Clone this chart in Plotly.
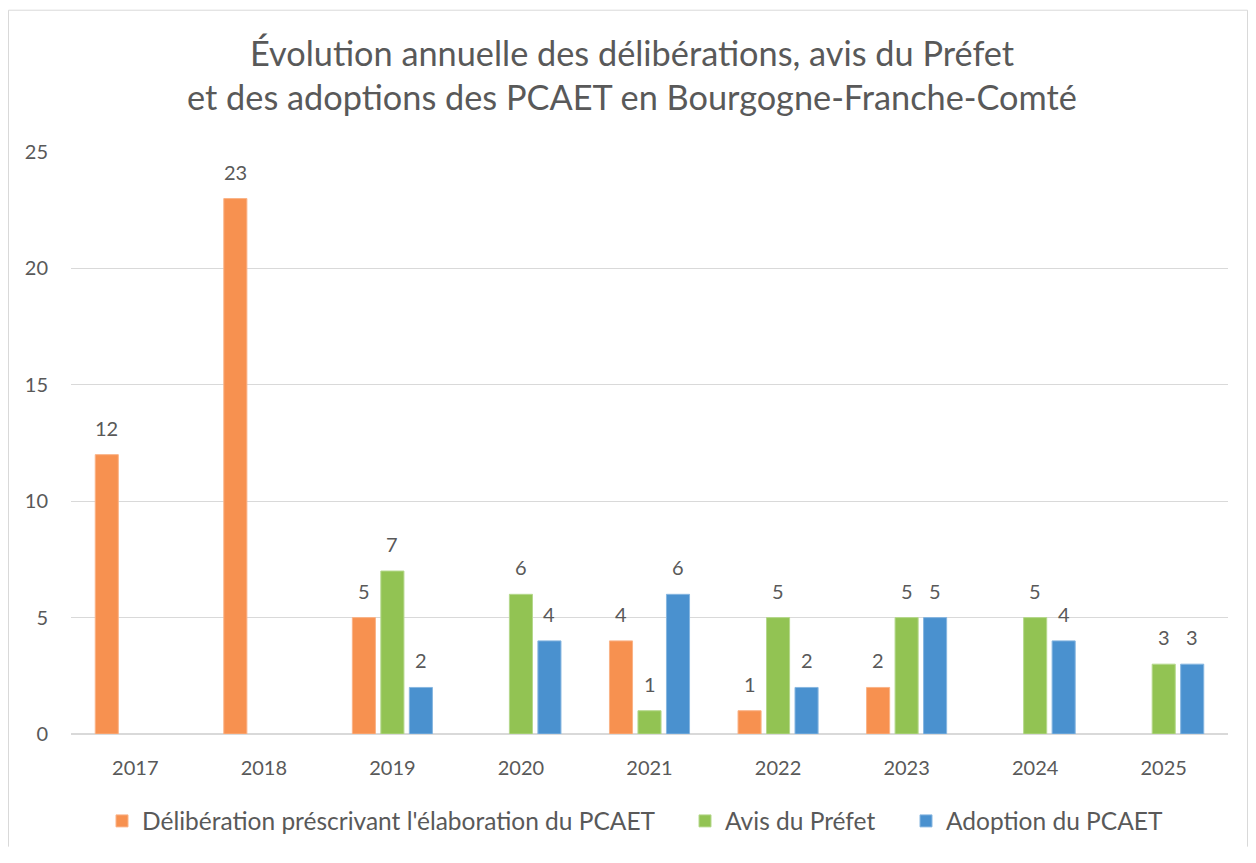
import plotly.graph_objects as go

years = ["2017", "2018", "2019", "2020", "2021", "2022", "2023", "2024", "2025"]
deliberation = [12, 23, 5, None, 4, 1, 2, None, None]
avis_prefet = [None, None, 7, 6, 1, 5, 5, 5, 3]
adoption = [None, None, 2, 4, 6, 2, 5, 4, 3]

series_names = [
    "Délibération préscrivant l'élaboration du PCAET",
    "Avis du Préfet",
    "Adoption du PCAET",
]
series_values = [deliberation, avis_prefet, adoption]
colors = ["#F79150", "#92C353", "#4A91CF"]
edge_colors = ["#FAB387", "#B5D88C", "#86B6E0"]
legend_ids = ["legend", "legend2", "legend3"]
legend_text_start = [142, 725, 946]  # screen px where each legend text begins

FONT = "Lato"
GRAY = "#595959"
OFF = 8                      # page body margin
W, H = 1240, 847
ML, MR, MT, MB = 63, 20, 144, 114
BARGAP, GROUPGAP = 0.335, 0.19

plot_w = W - ML - MR
plot_h = H - MT - MB


def px(sx):
    return (sx - OFF - ML) / plot_w


def py(sy):
    return (H - MB - (sy - OFF)) / plot_h


fig = go.Figure()
for name, vals, col, ec, lg in zip(series_names, series_values, colors, edge_colors, legend_ids):
    fig.add_trace(go.Bar(
        x=years, y=vals, name=name, legend=lg,
        marker=dict(color=col, line=dict(color=ec, width=1)),
        hoverinfo="x+y+name",
    ))

# data labels above bars
cat_w = plot_w / len(years)
slot = cat_w * (1 - BARGAP) / len(series_values)
annotations = []
for k, vals in enumerate(series_values):
    shift = (k - (len(series_values) - 1) / 2) * slot
    for i, v in enumerate(vals):
        if v is None:
            continue
        annotations.append(dict(
            x=i, y=v, xref="x", yref="y", text=str(v), showarrow=False,
            xanchor="center", yanchor="bottom", xshift=shift, yshift=13,
            font=dict(family=FONT, size=20, color=GRAY),
        ))

annotations.append(dict(
    text="Évolution annuelle des délibérations, avis du Préfet",
    x=px(632), y=py(51.5), xref="paper", yref="paper", showarrow=False,
    xanchor="center", yanchor="middle",
    font=dict(family=FONT, size=34.3, color=GRAY),
))
annotations.append(dict(
    text="et des adoptions des PCAET en Bourgogne-Franche-Comté",
    x=px(632), y=py(95.5), xref="paper", yref="paper", showarrow=False,
    xanchor="center", yanchor="middle",
    font=dict(family=FONT, size=34.3, color=GRAY),
))

legend_common = dict(
    orientation="h", xanchor="left", yanchor="middle", y=py(829),
    font=dict(family=FONT, size=24.5, color=GRAY),
    itemclick=False, itemdoubleclick=False, bgcolor="rgba(0,0,0,0)",
)
legends = {}
for lg, ts in zip(legend_ids, legend_text_start):
    legends[lg] = dict(legend_common, x=px(ts - 40))

fig.update_layout(
    width=W, height=H,
    margin=dict(l=ML, r=MR, t=MT, b=MB),
    paper_bgcolor="white", plot_bgcolor="white",
    barmode="group", bargap=BARGAP, bargroupgap=GROUPGAP,
    font=dict(family=FONT, color=GRAY),
    showlegend=True,
    annotations=annotations,
    shapes=[
        dict(type="line", xref="paper", yref="paper", x0=px(8.5), x1=px(8.5),
             y0=py(8.5), y1=py(OFF + H), line=dict(color="#D9D9D9", width=1)),
        dict(type="line", xref="paper", yref="paper", x0=px(8.5), x1=px(OFF + W - 0.5),
             y0=py(8.5), y1=py(8.5), line=dict(color="#D9D9D9", width=1)),
        dict(type="line", xref="paper", yref="paper", x0=px(OFF + W - 0.5), x1=px(OFF + W - 0.5),
             y0=py(8.5), y1=py(OFF + H), line=dict(color="#D9D9D9", width=1)),
    ],
    **legends,
)
fig.update_xaxes(
    type="category", range=[-0.5, len(years) - 0.5], autorange=False,
    showgrid=False, showline=False, zeroline=False,
    tickfont=dict(family=FONT, size=20, color=GRAY), ticks="", ticklabelstandoff=20,
    fixedrange=True,
)
fig.update_yaxes(
    range=[0, 25], autorange=False, dtick=5, tick0=0, showgrid=True,
    gridcolor="#D9D9D9", gridwidth=1,
    zeroline=True, zerolinecolor="#D9D9D9", zerolinewidth=1.5, showline=False,
    tickfont=dict(family=FONT, size=20, color=GRAY), ticks="", ticklabelstandoff=22,
    fixedrange=True,
)

fig.write_html("out.html")
